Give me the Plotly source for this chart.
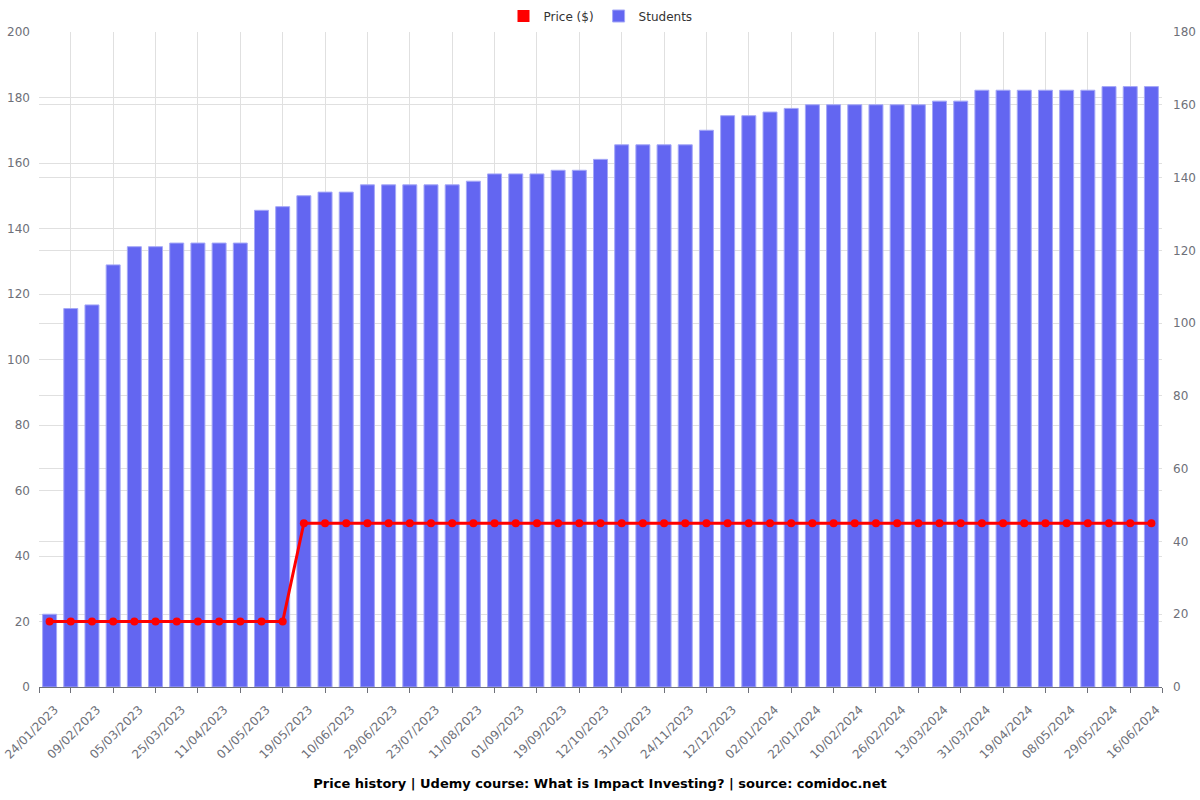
import plotly.graph_objects as go

dates = [
    "24/01/2023", "01/02/2023", "09/02/2023", "22/02/2023", "05/03/2023", "15/03/2023",
    "25/03/2023", "03/04/2023", "11/04/2023", "21/04/2023", "01/05/2023", "10/05/2023",
    "19/05/2023", "31/05/2023", "10/06/2023", "19/06/2023", "29/06/2023", "11/07/2023",
    "23/07/2023", "02/08/2023", "11/08/2023", "22/08/2023", "01/09/2023", "10/09/2023",
    "19/09/2023", "30/09/2023", "12/10/2023", "21/10/2023", "31/10/2023", "12/11/2023",
    "24/11/2023", "03/12/2023", "12/12/2023", "22/12/2023", "02/01/2024", "12/01/2024",
    "22/01/2024", "31/01/2024", "10/02/2024", "18/02/2024", "26/02/2024", "05/03/2024",
    "13/03/2024", "22/03/2024", "31/03/2024", "09/04/2024", "19/04/2024", "28/04/2024",
    "08/05/2024", "18/05/2024", "29/05/2024", "07/06/2024", "16/06/2024",
]

students = [
    20, 104, 105, 116, 121, 121, 122, 122, 122, 122, 131, 132, 135, 136, 136, 138,
    138, 138, 138, 138, 139, 141, 141, 141, 142, 142, 145, 149, 149, 149, 149, 153,
    157, 157, 158, 159, 160, 160, 160, 160, 160, 160, 161, 161, 164, 164, 164, 164,
    164, 164, 165, 165, 165,
]

price = [20] * 12 + [50] * 41

label_dates = dates[::2]

title_text = "Price history | Udemy course: What is Impact Investing? | source: comidoc.net"

FONT = "DejaVu Sans, sans-serif"
GRID = "#e0e0e0"
TICKC = "#6e7079"
RED = "#ff0000"
BLUE = "#6366f1"

fig = go.Figure()

# legend-only rectangle for price (drawn on separate x2/y2 subplot, zero height)
fig.add_trace(go.Bar(
    x=[0], y=[0], name="Price ($)", xaxis="x2", yaxis="y2",
    marker=dict(color=RED, line=dict(width=0)), hoverinfo="skip",
    legendrank=1,
))
fig.add_trace(go.Bar(
    x=dates, y=students, name="Students", yaxis="y",
    marker=dict(color=BLUE, line=dict(color="#a5a8f7", width=1)),
    legendrank=2,
))
fig.add_trace(go.Scatter(
    x=dates, y=price, name="Price ($)", mode="lines+markers", yaxis="y2",
    line=dict(color=RED, width=3),
    marker=dict(color=RED, size=8),
    showlegend=False,
))

n = len(dates)
grid_vals = [-0.5] + list(range(1, n, 2)) + [n - 0.5]

fig.update_layout(
    width=1200, height=800,
    paper_bgcolor="white", plot_bgcolor="white",
    margin=dict(l=39, r=38, t=32, b=113, autoexpand=False),
    font=dict(family=FONT, size=12, color="#333"),
    bargap=0.34,
    showlegend=True,
    legend=dict(
        orientation="h", x=0.5, xanchor="center", yref="container",
        y=1 - 16 / 800, yanchor="middle",
        traceorder="normal", font=dict(size=12, color="#333"),
    ),
    title=dict(
        text="<b>" + title_text + "</b>", x=0.5, xanchor="center",
        yref="container", y=1 - 783 / 800, yanchor="middle",
        font=dict(size=13, color="#000", family=FONT),
    ),
    xaxis=dict(
        type="category", categoryorder="array", categoryarray=dates,
        range=[-0.5, n - 0.5], automargin=False,
        tickmode="array", tickvals=label_dates, ticktext=label_dates,
        tickangle=-45, showgrid=False, ticks="",
        ticklabelstandoff=10, ticklabelshift=5,
        tickfont=dict(size=12, color=TICKC),
        showline=True, linecolor="#6e7079", linewidth=1,
        zeroline=False,
    ),
    xaxis2=dict(
        overlaying="x", anchor="y", side="bottom", type="linear",
        range=[-0.5, n - 0.5], tickmode="array", tickvals=grid_vals,
        showticklabels=False, showgrid=True, gridcolor=GRID, gridwidth=1,
        ticks="outside", ticklen=5, tickcolor="#6e7079", zeroline=False,
        showline=False, automargin=False,
    ),
    yaxis=dict(
        range=[0, 180], tickmode="linear", dtick=20, side="right",
        showgrid=True, gridcolor=GRID, zeroline=False, showline=False,
        tickfont=dict(size=12, color=TICKC), ticks="", automargin=False,
        ticklabelstandoff=10,
    ),
    yaxis2=dict(
        range=[0, 200], tickmode="linear", dtick=20, overlaying="y", side="left",
        showgrid=True, gridcolor=GRID, zeroline=False, showline=False,
        tickfont=dict(size=12, color=TICKC), ticks="", automargin=False,
        ticklabelstandoff=8,
    ),
)

fig.write_html("out.html")
